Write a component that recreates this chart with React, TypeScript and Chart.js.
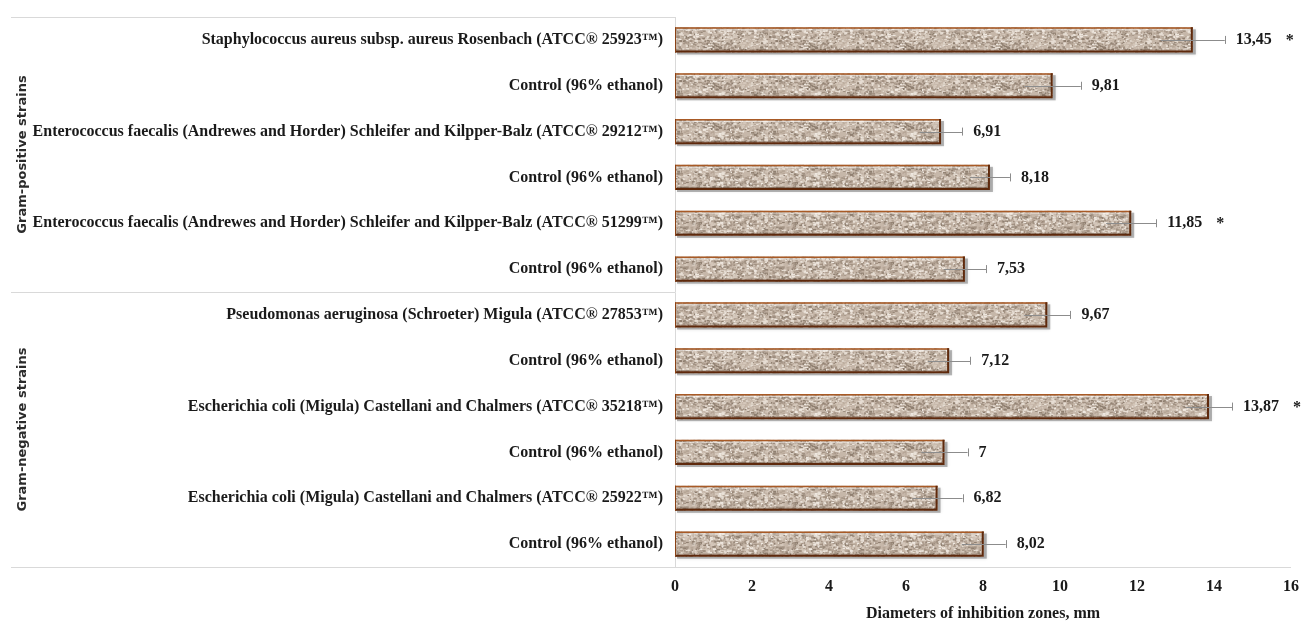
import React, { useEffect, useRef } from 'react';
import { Chart, registerables } from 'chart.js';

Chart.register(...registerables);

const categories: string[] = [
  'Staphylococcus aureus subsp. aureus Rosenbach (ATCC® 25923™)',
  'Control (96% ethanol)',
  'Enterococcus faecalis (Andrewes and Horder) Schleifer and Kilpper-Balz (ATCC® 29212™)',
  'Control (96% ethanol)',
  'Enterococcus faecalis (Andrewes and Horder) Schleifer and Kilpper-Balz (ATCC® 51299™)',
  'Control (96% ethanol)',
  'Pseudomonas aeruginosa (Schroeter) Migula (ATCC® 27853™)',
  'Control (96% ethanol)',
  'Escherichia coli (Migula) Castellani and Chalmers (ATCC® 35218™)',
  'Control (96% ethanol)',
  'Escherichia coli (Migula) Castellani and Chalmers (ATCC® 25922™)',
  'Control (96% ethanol)',
];
const values: number[] = [13.45, 9.81, 6.91, 8.18, 11.85, 7.53, 9.67, 7.12, 13.87, 7, 6.82, 8.02];
const errors: number[] = [0.83, 0.73, 0.55, 0.52, 0.65, 0.55, 0.6, 0.55, 0.6, 0.6, 0.65, 0.57];
const valueLabels: string[] = ['13,45', '9,81', '6,91', '8,18', '11,85', '7,53', '9,67', '7,12', '13,87', '7', '6,82', '8,02'];
const significant: boolean[] = [true, false, false, false, true, false, false, false, true, false, false, false];
const groupNames: string[] = ['Gram-positive strains', 'Gram-negative strains'];
const groupSizes: number[] = [6, 6];
const xMin = 0;
const xMax = 16;
const xStep = 2;
const xTitle = 'Diameters of inhibition zones, mm';

const SERIF = '"Liberation Serif", "DejaVu Serif", serif';
const TEXT = '#1a1a1a';
const LINE = '#d9d9d9';

function makeGranite(ctx: CanvasRenderingContext2D): CanvasPattern | string {
  const c = document.createElement('canvas');
  c.width = 96;
  c.height = 40;
  const g = c.getContext('2d');
  if (!g) return '#c7b8aa';
  g.fillStyle = '#c6b7a9';
  g.fillRect(0, 0, c.width, c.height);
  let s = 987654;
  const rnd = () => {
    s = (s * 1103515245 + 12345) & 0x7fffffff;
    return s / 0x7fffffff;
  };
  const cols = ['#a29182', '#e6ddd3', '#b5a596', '#efe8e0', '#d4c7ba', '#8f7f70'];
  for (let i = 0; i < 1300; i++) {
    const x = rnd() * c.width;
    const y = rnd() * c.height;
    g.fillStyle = cols[Math.floor(rnd() * cols.length)];
    g.fillRect(x, y, 1 + rnd() * 2.5, 1 + rnd() * 1.2);
  }
  return ctx.createPattern(c, 'repeat') || '#c7b8aa';
}

const decorPlugin = {
  id: 'decor',
  beforeDatasetsDraw(chart: any) {
    const ctx = chart.ctx;
    const meta = chart.getDatasetMeta(0);
    ctx.save();
    meta.data.forEach((bar: any) => {
      const h = bar.height;
      ctx.fillStyle = 'rgba(0,0,0,0.28)';
      ctx.shadowColor = 'rgba(0,0,0,0.35)';
      ctx.shadowBlur = 3;
      ctx.fillRect(bar.base + 2, bar.y - h / 2 + 2, bar.x - bar.base + 1, h);
    });
    ctx.restore();
  },
  afterDatasetsDraw(chart: any) {
    const ctx = chart.ctx;
    const meta = chart.getDatasetMeta(0);
    const xs = chart.scales.x;
    ctx.save();
    meta.data.forEach((bar: any, i: number) => {
      const h = bar.height;
      const top = bar.y - h / 2;
      const left = bar.base;
      const w = bar.x - bar.base;
      ctx.strokeStyle = 'rgba(255,255,255,0.55)';
      ctx.lineWidth = 1;
      ctx.beginPath();
      ctx.moveTo(left + 2, top + 2.5);
      ctx.lineTo(left + w - 2, top + 2.5);
      ctx.stroke();
      ctx.strokeStyle = 'rgba(60,30,10,0.35)';
      ctx.beginPath();
      ctx.moveTo(left + 2, top + h - 2.5);
      ctx.lineTo(left + w - 2, top + h - 2.5);
      ctx.stroke();
      ctx.strokeStyle = '#a85a26';
      ctx.lineWidth = 1.5;
      ctx.beginPath();
      ctx.moveTo(left, top + 0.75);
      ctx.lineTo(left + w, top + 0.75);
      ctx.stroke();
      ctx.strokeStyle = '#5e290c';
      ctx.lineWidth = 2;
      ctx.beginPath();
      ctx.moveTo(left + w - 1, top);
      ctx.lineTo(left + w - 1, top + h - 1);
      ctx.lineTo(left, top + h - 1);
      ctx.stroke();
      ctx.strokeStyle = '#8a4216';
      ctx.lineWidth = 1;
      ctx.beginPath();
      ctx.moveTo(left + 0.5, top);
      ctx.lineTo(left + 0.5, top + h);
      ctx.stroke();

      const v = values[i];
      const e = errors[i];
      const x0 = xs.getPixelForValue(v - e);
      const x1 = xs.getPixelForValue(v + e);
      ctx.strokeStyle = '#8c8c8c';
      ctx.lineWidth = 1;
      ctx.beginPath();
      ctx.moveTo(x0, Math.round(bar.y) + 0.5);
      ctx.lineTo(x1, Math.round(bar.y) + 0.5);
      ctx.moveTo(Math.round(x1) + 0.5, bar.y - 4);
      ctx.lineTo(Math.round(x1) + 0.5, bar.y + 4);
      ctx.stroke();

      ctx.fillStyle = TEXT;
      ctx.font = 'bold 16px ' + SERIF;
      ctx.textAlign = 'left';
      ctx.textBaseline = 'middle';
      const lx = x1 + 11;
      ctx.fillText(valueLabels[i], lx, bar.y);
      if (significant[i]) {
        const tw = ctx.measureText(valueLabels[i]).width;
        ctx.fillText('*', lx + tw + 14, bar.y + 1);
      }
    });
    ctx.restore();
  },
  afterDraw(chart: any) {
    const ctx = chart.ctx;
    const area = chart.chartArea;
    const ys = chart.scales.y;
    ctx.save();
    ctx.strokeStyle = LINE;
    ctx.lineWidth = 1;
    const bounds: number[] = [area.top];
    let idx = 0;
    groupSizes.forEach((n) => {
      idx += n;
      if (idx < categories.length) {
        bounds.push((ys.getPixelForValue(idx - 1) + ys.getPixelForValue(idx)) / 2);
      } else {
        bounds.push(area.bottom);
      }
    });
    bounds.forEach((b, k) => {
      const yy = Math.round(b) + 0.5;
      ctx.beginPath();
      ctx.moveTo(11, yy);
      ctx.lineTo(k === bounds.length - 1 ? area.right : area.left, yy);
      ctx.stroke();
    });
    ctx.fillStyle = '#2b2b2b';
    ctx.font = 'bold 13px "DejaVu Sans", sans-serif';
    ctx.textAlign = 'center';
    ctx.textBaseline = 'middle';
    groupNames.forEach((name, k) => {
      const cy = (bounds[k] + bounds[k + 1]) / 2;
      ctx.save();
      ctx.translate(23, cy);
      ctx.rotate(-Math.PI / 2);
      ctx.fillText(name, 0, 0);
      ctx.restore();
    });
    ctx.restore();
  },
};

export default function App() {
  const ref = useRef<HTMLCanvasElement | null>(null);
  useEffect(() => {
    document.body.style.margin = '0';
    const canvas = ref.current;
    if (!canvas) return;
    const ctx = canvas.getContext('2d') as CanvasRenderingContext2D;
    const pattern = makeGranite(ctx);
    const chart = new Chart(canvas, {
      type: 'bar',
      data: {
        labels: categories,
        datasets: [
          {
            data: values,
            backgroundColor: pattern as any,
            borderWidth: 0,
            barPercentage: 0.55,
            categoryPercentage: 1,
          },
        ],
      },
      options: {
        indexAxis: 'y',
        animation: false,
        responsive: false,
        layout: { padding: { top: 17, right: 12, left: 0, bottom: 0 } },
        plugins: { legend: { display: false }, tooltip: { enabled: false } },
        scales: {
          x: {
            min: xMin,
            max: xMax,
            grid: { display: false, drawTicks: false },
            border: { display: false },
            ticks: {
              stepSize: xStep,
              padding: 10,
              color: TEXT,
              font: { family: SERIF, size: 16, weight: 'bold' },
            },
            title: {
              display: true,
              text: xTitle,
              color: TEXT,
              font: { family: SERIF, size: 16, weight: 'bold' },
              padding: { top: 0, bottom: 0 },
            },
            afterFit: (s: any) => {
              s.height = 56;
              s.paddingLeft = 0;
              s.paddingRight = 0;
            },
          },
          y: {
            grid: { display: false, drawTicks: false },
            border: { display: true, color: LINE, width: 1 },
            ticks: {
              autoSkip: false,
              padding: 12,
              color: TEXT,
              font: { family: SERIF, size: 16, weight: 'bold' },
            },
            afterFit: (s: any) => {
              s.width = 675;
              s.paddingTop = 0;
              s.paddingBottom = 0;
            },
          },
        },
      },
      plugins: [decorPlugin],
    });
    return () => chart.destroy();
  }, []);
  return (
    <div style={{ width: 1303, height: 623, background: '#fff' }}>
      <canvas ref={ref} width={1303} height={623} style={{ display: 'block' }} />
    </div>
  );
}
